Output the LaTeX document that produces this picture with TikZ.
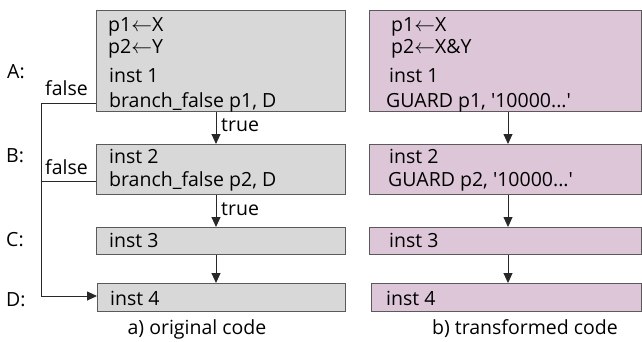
\documentclass[tikz,border=0pt]{standalone}
\usepackage{fontspec}
\setmainfont{Open Sans}
\usetikzlibrary{arrows.meta}
\definecolor{gfill}{RGB}{216,216,216}
\definecolor{pfill}{RGB}{220,198,216}
\definecolor{boxline}{RGB}{90,90,90}
\definecolor{linec}{RGB}{40,40,40}
\begin{document}
\begin{tikzpicture}[x=1pt,y=-1pt,
  gbox/.style={draw=boxline, fill=gfill, line width=1.2pt, anchor=north west, inner sep=0pt},
  pbox/.style={draw=boxline, fill=pfill, line width=1.2pt, anchor=north west, inner sep=0pt},
  txt/.style={anchor=base west, inner sep=0pt, font=\fontsize{19.5}{22}\selectfont},
  lbl/.style={anchor=base west, inner sep=0pt, font=\fontsize{19.5}{22}\selectfont},
  arr/.style={-{Triangle[length=10pt,width=9pt]}, line width=0.9pt, draw=linec},
  ln/.style={line width=0.9pt, draw=linec}]
\useasboundingbox (0,0) rectangle (642,341);
% left boxes
\node[gbox, minimum width=249pt, minimum height=101pt] (A) at (96,10) {};
\node[gbox, minimum width=249pt, minimum height=50pt] (B) at (96,144) {};
\node[gbox, minimum width=249pt, minimum height=27pt] (C) at (96,227) {};
\node[gbox, minimum width=248pt, minimum height=28pt] (D) at (97,283) {};
% right boxes
\node[pbox, minimum width=272pt, minimum height=101pt] (A2) at (369,10) {};
\node[pbox, minimum width=272pt, minimum height=50pt] (B2) at (369,144) {};
\node[pbox, minimum width=272pt, minimum height=27pt] (C2) at (369,227) {};
\node[pbox, minimum width=270pt, minimum height=28pt] (D2) at (371,283) {};
% left texts
\node[txt] (ta1) at (108,31) {p1$\leftarrow$X};
\node[txt] (ta2) at (108,53) {p2$\leftarrow$Y};
\node[txt] (ta3) at (109,82) {inst 1};
\node[txt] (ta4) at (109,107) {branch\_false p1, D};
\node[txt] (tb1) at (109,163) {inst 2};
\node[txt] (tb2) at (109,186) {branch\_false p2, D};
\node[txt] (tc1) at (109,247) {inst 3};
\node[txt] (td1) at (110,305) {inst 4};
% right texts
\node[txt] (ua1) at (391,31) {p1$\leftarrow$X};
\node[txt] (ua2) at (391,53) {p2$\leftarrow$X\&Y};
\node[txt] (ua3) at (389,82) {inst 1};
\node[txt] (ua4) at (386,107) {GUARD p1, \textquotesingle10000...\textquotesingle};
\node[txt] (ub1) at (389,163) {inst 2};
\node[txt] (ub2) at (388,186) {GUARD p2, \textquotesingle10000...\textquotesingle};
\node[txt] (uc1) at (389,247) {inst 3};
\node[txt] (ud1) at (386,305) {inst 4};
% side labels
\node[lbl] (lA) at (7,78) {A:};
\node[lbl] (lB) at (6,162) {B:};
\node[lbl] (lC) at (6,246) {C:};
\node[lbl] (lD) at (6,306) {D:};
\node[lbl, anchor=base east] (f1) at (88,95) {false};
\node[lbl, anchor=base east] (f2) at (88,174) {false};
\node[lbl] (t1) at (221,131) {true};
\node[lbl] (t2) at (221,215) {true};
\node[lbl, anchor=base] (capa) at (197,334) {a) original code};
\node[lbl, anchor=base] (capb) at (525,334) {b) transformed code};
% connector helpers
\coordinate (xl) at (216,0);
\coordinate (xr) at (508,0);
\coordinate (corner) at (41,103);
\coordinate (cornerB) at (41,181);
\coordinate (cornerD) at (41,296);
% vertical arrows left
\draw[arr] (A.south -| xl) -- (B.north -| xl);
\draw[arr] (B.south -| xl) -- (C.north -| xl);
\draw[arr] (C.south -| xl) -- (D.north -| xl);
% vertical arrows right
\draw[arr] (A2.south -| xr) -- (B2.north -| xr);
\draw[arr] (B2.south -| xr) -- (C2.north -| xr);
\draw[arr] (C2.south -| xr) -- (D2.north -| xr);
% false branches
\draw[ln] (A.west |- corner) -- (corner) -- (cornerD);
\draw[arr] (cornerD) -- (D.west |- cornerD);
\draw[ln] (B.west |- cornerB) -- (cornerB);
\end{tikzpicture}
\end{document}
